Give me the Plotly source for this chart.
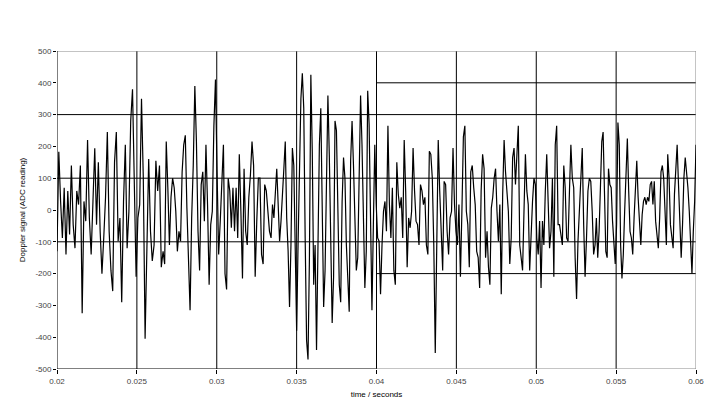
import numpy as np
import plotly.graph_objects as go

# Start times of each stretch of samples (seconds) and the final time
segment_starts = [0.02, 0.02664, 0.0334, 0.04016, 0.04692, 0.05368]
end_time = 0.06

# Doppler signal readings (ADC) per stretch
seg1 = [-130, 183, 27, -88, 70, -140, 60, -77, 140, -46, -120, 60, 17, 140, -325, 27,
        -35, 220, -25, -140, 27, 194, -46, 150, -67, -200, -88, 40, 245, -67, -190, -255,
        150, 245, -98, -25, -290, 27, 205, -120, -4, 280, 380, 60, -210, -25, 17, 350,
        100, -405, -67, 160, -67, -160, -110, 155, 60, 140, -180]
seg2 = [-130, -170, 215, 70, -110, 40, 100, 70, -4, -130, -67, -98, 120, 205, 235, 6,
        -170, -315, -25, 140, 390, 215, -67, -190, 80, 120, -35, 205, 17, -235, -46, -4,
        265, 410, 120, -140, -35, 80, 205, -200, -250, 100, 60, -56, 70, -67, 70, -88,
        175, -4, -215, 130, -67, -110, 40, 110, 215, 140, -210, -35, 100, 100, -140, -170,
        80, 60, -4, -67]
seg3 = [-88, 17, -25, 80, 130, 17, -98, -35, 70, 130, 215, -25, -130, -305, -110, 195,
        140, -88, -380, -110, 185, 350, 430, 320, -88, -410, -470, -150, 425, 185, -235, -110,
        -440, -67, 205, 320, -25, -305, -190, 110, 360, 170, -150, -355, -210, 280, 250, 17,
        -235, -290, 27, 165, 100, -110, -235, -320, 155, 280, 140, -67, -190, -150, 155, 360,
        205, -56, -245, -130, 375, 270, -25, -315, -46, 205, 17, -88]
seg4 = [-98, -265, -110, -4, 27, -67, 265, 17, -88, 70, -190, -235, 150, 50, 6, 40,
        -88, 220, 60, -180, -25, -56, -4, 195, 60, -35, -46, -110, 80, 60, 17, 40,
        -110, -140, 185, 175, 100, -110, -450, -67, 220, 60, -88, -190, 90, 80, -67, -140,
        -25, -4, 195, 17, -67, -110, 17, -210, -4, 230, 265, -4, -46, -180, 120, 140,
        70, 17, -130, -150, -245, 60, 175, 130, -150]
seg5 = [-67, -180, -235, 6, 40, 100, 130, -4, -98, 17, -265, 50, 220, 120, 50, -4,
        -170, -88, 165, 195, 80, 175, 265, -110, -150, -190, -4, 175, 60, 17, -190, -67,
        27, 100, 80, -88, -140, -35, -245, -35, -110, 60, 175, 27, -120, -67, 100, -210,
        205, 265, -46, -46, -77, -110, 140, 70, -88, -98, 60, 205, 100, 70, -150, -280,
        -98, 6, 120, 195, -46, -210, -88, 60, 100, 90, -4, -140]
seg6 = [-110, -25, -150, -67, 70, 215, 245, 40, -130, -150, 130, 80, 70, -35, -88, -170,
        -46, 275, 205, -110, -215, -140, -4, 130, 225, 60, -67, -88, -140, -25, 80, 155,
        40, -25, -110, -15, 27, 40, 17, 40, 27, 80, 90, 17, 90, -35, -88, -120, -25, 120,
        140, 100, -4, -110, 175, 100, -46, -88, -120, 50, 140, 205, 80, -67, -150, -46,
        100, 165, 120, 70, -4, -88, -200, -67, 27, 205]

segments = [seg1, seg2, seg3, seg4, seg5, seg6]
edges = segment_starts + [end_time]

times = []
values = []
for i, seg in enumerate(segments):
    last = i == len(segments) - 1
    t = np.linspace(edges[i], edges[i + 1], len(seg), endpoint=last)
    times.extend(t.tolist())
    values.extend(seg)

x_ticks = [0.02, 0.025, 0.03, 0.035, 0.04, 0.045, 0.05, 0.055, 0.06]
x_tick_text = ["0.02", "0.025", "0.03", "0.035", "0.04", "0.045", "0.05", "0.055", "0.06"]
y_ticks = [500, 400, 300, 200, 100, 0, -100, -200, -300, -400, -500]
y_tick_text = ["500", "400", "300", "200", "100", "0", "-100", "-200", "-300", "-400", "-500"]
full_hlines = [300, 100, -100]
half_hlines = [400, -200]
vlines = [0.025, 0.03, 0.035, 0.04, 0.045, 0.05, 0.055]

fig = go.Figure()
fig.add_trace(go.Scatter(x=times, y=values, mode="lines",
                         line=dict(color="black", width=1.2), showlegend=False,
                         hoverinfo="skip"))

shapes = []
for v in vlines:
    shapes.append(dict(type="line", xref="x", yref="y", x0=v, x1=v, y0=-500, y1=500,
                       line=dict(color="black", width=1), layer="below"))
for h in full_hlines:
    shapes.append(dict(type="line", xref="x", yref="y", x0=0.02, x1=0.06, y0=h, y1=h,
                       line=dict(color="black", width=1), layer="below"))
for h in half_hlines:
    shapes.append(dict(type="line", xref="x", yref="y", x0=0.04, x1=0.06, y0=h, y1=h,
                       line=dict(color="black", width=1), layer="below"))
# borders
shapes.append(dict(type="line", xref="x", yref="y", x0=0.02, x1=0.06, y0=500, y1=500,
                   line=dict(color="#888888", width=1), layer="below"))
shapes.append(dict(type="line", xref="x", yref="y", x0=0.06, x1=0.06, y0=-500, y1=500,
                   line=dict(color="#888888", width=1), layer="below"))
shapes.append(dict(type="line", xref="x", yref="y", x0=0.02, x1=0.04, y0=-500, y1=-500,
                   line=dict(color="black", width=1), layer="below"))
shapes.append(dict(type="line", xref="x", yref="y", x0=0.04, x1=0.06, y0=-500, y1=-500,
                   line=dict(color="#888888", width=1), layer="below"))
shapes.append(dict(type="line", xref="x", yref="y", x0=0.02, x1=0.02, y0=-500, y1=500,
                   line=dict(color="black", width=1), layer="below"))

font_family = "Liberation Sans, Arial, sans-serif"
fig.update_layout(
    width=712, height=410,
    margin=dict(l=49, r=24, t=43, b=49),
    paper_bgcolor="white", plot_bgcolor="white",
    shapes=shapes,
    font=dict(family=font_family, size=8, color="#333333"),
    xaxis=dict(range=[0.02, 0.06], tickvals=x_ticks, ticktext=x_tick_text,
               showgrid=False, zeroline=False, showline=False,
               ticks="outside", ticklen=4, tickcolor="black",
               tickfont=dict(size=8, color="#444444"),
               title=dict(text="time / seconds", font=dict(size=8, color="black"),
                          standoff=6)),
    yaxis=dict(range=[-500, 500], tickvals=y_ticks, ticktext=y_tick_text,
               showgrid=False, zeroline=False, showline=False,
               ticks="outside", ticklen=3, tickcolor="black",
               tickfont=dict(size=8, color="#444444"),
               title=dict(text="Doppler signal (ADC reading)",
                          font=dict(size=8, color="black"), standoff=8)),
)

fig.write_html("out.html")
